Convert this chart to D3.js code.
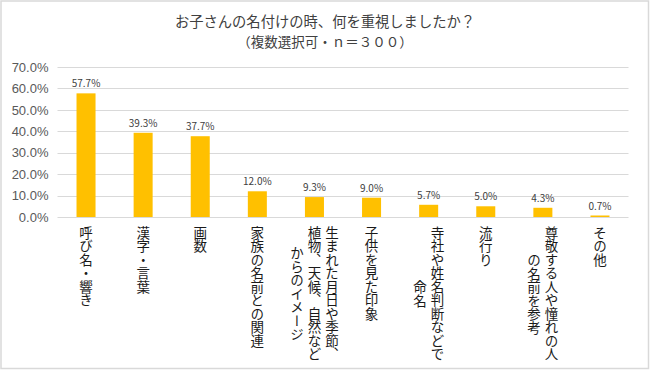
<!DOCTYPE html>
<html lang="ja">
<head>
<meta charset="UTF-8">
<title>お子さんの名付けの時、何を重視しましたか？</title>
<script src="https://d3js.org/d3.v7.min.js"></script>
<style>
  body { margin: 0; background: #fff; }
  svg { display: block; font-family: "Noto Sans CJK JP", "Noto Sans", sans-serif; }
  .title { font-size: 14.3px; fill: #404040; text-anchor: middle; }
  .title.sub { font-size: 13.5px; }
  .tick text { font-size: 13px; fill: #595959; }
  .grid line { stroke: #d9d9d9; stroke-width: 1; }
  .val { font-size: 10px; fill: #404040; text-anchor: middle; }
  .cat { font-size: 13.5px; fill: #1a1a1a; writing-mode: vertical-rl; }
</style>
</head>
<body>
<svg width="650" height="370"></svg>
<script>
  const categories = [
    "呼び名・響き",
    "漢字・言葉",
    "画数",
    "家族の名前との関連",
    "生まれた月日や季節、\n植物、天候、自然など\nからのイメージ",
    "子供を見た印象",
    "寺社や姓名判断などで\n命名",
    "流行り",
    "尊敬する人や憧れの人\nの名前を参考",
    "その他"
  ];
  const values = [57.7, 39.3, 37.7, 12.0, 9.3, 9.0, 5.7, 5.0, 4.3, 0.7];
  const yTicks = [0, 10, 20, 30, 40, 50, 60, 70];
  const titleLines = ["お子さんの名付けの時、何を重視しましたか？", "（複数選択可・ｎ＝３００）"];

  const svg = d3.select("svg");
  const W = 650, H = 370;
  const plotL = 57.5, plotR = 628.5, plotT = 67, plotB = 217;

  // outer frame
  svg.append("rect")
    .attr("x", 1).attr("y", 1).attr("width", W - 2.5).attr("height", H - 2.5)
    .attr("fill", "#fff").attr("stroke", "#d9d9d9").attr("stroke-width", 1.5);

  svg.selectAll(".title")
    .data(titleLines)
    .enter().append("text")
    .attr("class", (d, i) => i ? "title sub" : "title")
    .attr("x", W / 2)
    .attr("y", (d, i) => 27 + i * 20)
    .text(d => d);

  const x = d3.scaleBand()
    .domain(categories)
    .range([plotL, plotR])
    .paddingInner(0.667)
    .paddingOuter(0.333);

  const y = d3.scaleLinear().domain([0, 70]).range([plotB, plotT]);

  // gridlines
  svg.append("g").attr("class", "grid")
    .selectAll("line")
    .data(yTicks)
    .enter().append("line")
    .attr("x1", plotL).attr("x2", plotR)
    .attr("y1", d => Math.round(y(d)) + 0.5)
    .attr("y2", d => Math.round(y(d)) + 0.5);

  const yAxis = svg.append("g")
    .attr("transform", `translate(${plotL},0)`)
    .call(d3.axisLeft(y).tickValues(yTicks).tickSize(0).tickPadding(9)
      .tickFormat(d => d.toFixed(1) + "%"));
  yAxis.select(".domain").remove();

  const data = categories.map((c, i) => ({ cat: c, value: values[i] }));

  svg.selectAll(".bar")
    .data(data)
    .enter().append("rect")
    .attr("class", "bar")
    .attr("x", d => x(d.cat))
    .attr("width", x.bandwidth())
    .attr("y", d => y(d.value))
    .attr("height", d => y(0) - y(d.value))
    .attr("fill", "#ffc000");

  svg.selectAll(".val")
    .data(data)
    .enter().append("text")
    .attr("class", "val")
    .attr("x", d => x(d.cat) + x.bandwidth() / 2)
    .attr("y", d => y(d.value) - 6)
    .text(d => d.value.toFixed(1) + "%");

  // vertical category labels, columns right to left, centered on the longest column
  const adv = 13.6, colGap = 17.5, labelTop = 226;
  data.forEach(d => {
    const lines = d.cat.split("\n");
    const maxLen = d3.max(lines, l => l.length);
    const cx = x(d.cat) + x.bandwidth() / 2;
    lines.forEach((l, j) => {
      svg.append("text")
        .attr("class", "cat")
        .attr("x", cx + ((lines.length - 1) / 2 - j) * colGap)
        .attr("y", labelTop + (maxLen - l.length) * adv / 2)
        .text(l);
    });
  });
</script>
</body>
</html>
